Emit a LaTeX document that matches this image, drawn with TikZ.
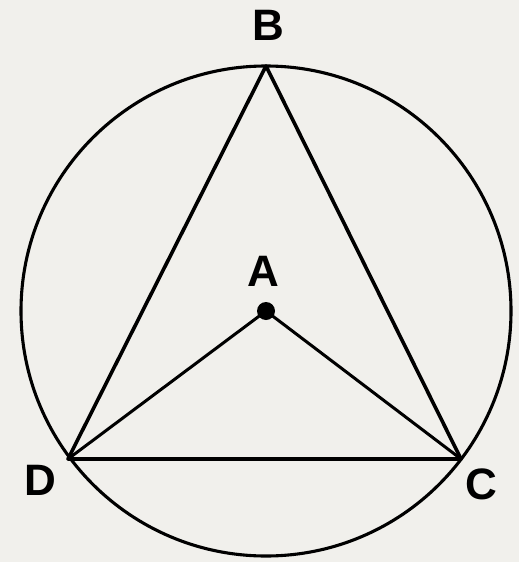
\documentclass[tikz,border=0pt]{standalone}
\usepackage{fontspec}
\setmainfont{Liberation Sans}
\definecolor{paper}{HTML}{F1F0EC}
\tikzset{
  lbl/.style={font=\fontsize{44}{44}\selectfont\bfseries, inner sep=0pt},
  edge/.style={line width=3.6pt, line join=round},
  thin/.style={line width=3pt},
}
\begin{document}
\begin{tikzpicture}[x=1pt,y=-1pt]
\fill[paper] (0,0) rectangle (519,562);
\useasboundingbox (0,0) rectangle (519,562);
\coordinate (A) at (266,311);
\coordinate (B) at (266,66);
\coordinate (C) at (461,459);
\coordinate (D) at (68,459);
\draw[line width=3.1pt] (A) circle (245);
\draw[edge] (B) -- (C) -- (D) -- cycle;
\draw[thin] (D) -- (A) -- (C);
\fill (A) circle (9);
\node[lbl] (lB) at (268,25) {B};
\node[lbl] (lA) at (263,271) {A};
\node[lbl] (lD) at (40,480) {D};
\node[lbl] (lC) at (481,484) {C};
\end{tikzpicture}
\end{document}
